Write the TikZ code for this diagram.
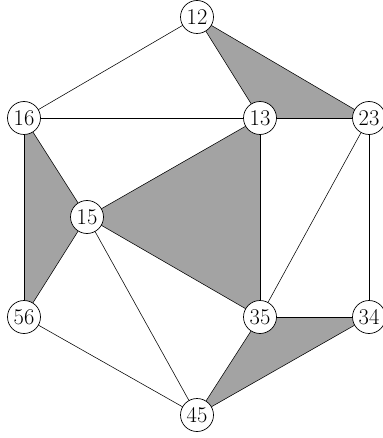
\documentclass[tikz,border=0pt]{standalone}
\begin{document}
\begin{tikzpicture}[x=1pt,y=-1pt,
  vtx/.style={circle,draw,fill=white,line width=0.7pt,minimum size=33pt,inner sep=0pt,font=\fontsize{22.5}{26}\selectfont},
  edge/.style={line width=0.55pt},
  face/.style={fill=black!36}]
\useasboundingbox (0,0) rectangle (382,438);
\coordinate (p12) at (197,17);
\coordinate (p16) at (24,118);
\coordinate (p13) at (260,118);
\coordinate (p23) at (369,118);
\coordinate (p15) at (87,217);
\coordinate (p56) at (24,317);
\coordinate (p35) at (260,317);
\coordinate (p34) at (369,317);
\coordinate (p45) at (197,415);
\fill[face] (p12) -- (p13) -- (p23) -- cycle;
\fill[face] (p16) -- (p15) -- (p56) -- cycle;
\fill[face] (p15) -- (p13) -- (p35) -- cycle;
\fill[face] (p35) -- (p34) -- (p45) -- cycle;
\draw[edge] (p12) -- (p16);
\draw[edge] (p12) -- (p13);
\draw[edge] (p12) -- (p23);
\draw[edge] (p13) -- (p23);
\draw[edge] (p16) -- (p13);
\draw[edge] (p16) -- (p15);
\draw[edge] (p16) -- (p56);
\draw[edge] (p15) -- (p56);
\draw[edge] (p15) -- (p13);
\draw[edge] (p15) -- (p35);
\draw[edge] (p13) -- (p35);
\draw[edge] (p23) -- (p35);
\draw[edge] (p23) -- (p34);
\draw[edge] (p35) -- (p34);
\draw[edge] (p35) -- (p45);
\draw[edge] (p34) -- (p45);
\draw[edge] (p15) -- (p45);
\draw[edge] (p56) -- (p45);
\node[vtx] (n12) at (p12) {12};
\node[vtx] (n16) at (p16) {16};
\node[vtx] (n13) at (p13) {13};
\node[vtx] (n23) at (p23) {23};
\node[vtx] (n15) at (p15) {15};
\node[vtx] (n56) at (p56) {56};
\node[vtx] (n35) at (p35) {35};
\node[vtx] (n34) at (p34) {34};
\node[vtx] (n45) at (p45) {45};
\end{tikzpicture}
\end{document}
